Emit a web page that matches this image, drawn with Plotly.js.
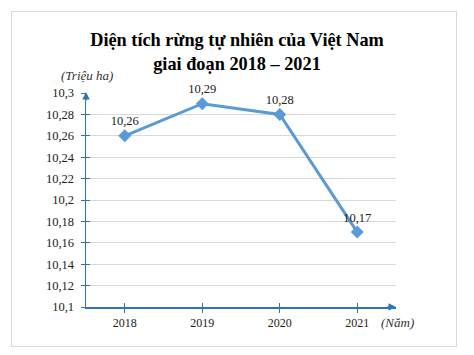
<!DOCTYPE html>
<html>
<head>
<meta charset="utf-8">
<script src="https://cdn.plot.ly/plotly-3.0.1.min.js"></script>
<style>
  html, body { margin: 0; padding: 0; background: #ffffff; }
  #wrap { position: relative; width: 474px; height: 355px; }
  #chart { width: 474px; height: 355px; }
  #frame { position: absolute; left: 11px; top: 11px; width: 444px; height: 334px; border: 1px solid #d9d9d9; pointer-events: none; }
</style>
</head>
<body>
<div id="wrap">
  <div id="chart"></div>
  <div id="frame"></div>
</div>
<script>
const years = ['2018', '2019', '2020', '2021'];
const forestArea = [10.26, 10.29, 10.28, 10.17];
const yTickValues = [10.1, 10.12, 10.14, 10.16, 10.18, 10.2, 10.22, 10.24, 10.26, 10.28, 10.3];
const yTickLabels = ['10,1', '10,12', '10,14', '10,16', '10,18', '10,2', '10,22', '10,24', '10,26', '10,28', '10,3'];
const titleText = '<b>Diện tích rừng tự nhiên của Việt Nam<br>giai đoạn 2018 – 2021</b>';
const yUnit = '(Triệu ha)';
const xUnit = '(Năm)';

const serif = '"Liberation Serif", serif';
const axisBlue = '#2e75b6';
const lineBlue = '#5b9bd5';

const trace = {
  type: 'scatter',
  mode: 'lines+markers+text',
  x: years,
  y: forestArea,
  line: { color: lineBlue, width: 3 },
  marker: { symbol: 'diamond', size: 10, color: lineBlue },
  texttemplate: '%{y:.2f}',
  textposition: 'top center',
  textfont: { family: serif, size: 12.5, color: '#222222' },
  cliponaxis: false,
  hoverinfo: 'skip'
};

// overlay trace to draw inward ticks (cross ticks) on the axes
const ghost = {
  type: 'scatter', mode: 'none', x: years, y: forestArea,
  xaxis: 'x2', yaxis: 'y2', hoverinfo: 'skip', showlegend: false
};

const layout = {
  width: 474,
  height: 355,
  margin: { l: 86, r: 78, t: 93, b: 48 },
  paper_bgcolor: '#ffffff',
  plot_bgcolor: '#ffffff',
  separators: ',.',
  showlegend: false,
  font: { family: serif },
  title: {
    text: titleText,
    font: { family: serif, size: 18.3, color: '#000000' },
    x: 0.5, xref: 'container', xanchor: 'center',
    y: 1 - 46 / 355, yref: 'container', yanchor: 'top'
  },
  xaxis: {
    type: 'category',
    range: [-0.5, 3.5],
    showgrid: false,
    showline: true, linecolor: axisBlue, linewidth: 1.5,
    ticks: 'outside', ticklen: 4, tickcolor: axisBlue, tickwidth: 1,
    ticklabelstandoff: 0,
    tickfont: { family: serif, size: 12, color: '#222222' },
    zeroline: false, fixedrange: true
  },
  yaxis: {
    range: [10.1, 10.3],
    tickvals: yTickValues,
    ticktext: yTickLabels,
    showgrid: true, gridcolor: '#d9d9d9', gridwidth: 1,
    showline: true, linecolor: axisBlue, linewidth: 1.5,
    ticks: 'outside', ticklen: 4, tickcolor: axisBlue, tickwidth: 1,
    ticklabelstandoff: 4,
    tickfont: { family: serif, size: 12.5, color: '#222222' },
    zeroline: false, fixedrange: true
  },
  xaxis2: {
    type: 'category', range: [-0.5, 3.5], overlaying: 'x',
    showgrid: false, showline: false, showticklabels: false,
    ticks: 'inside', ticklen: 4, tickcolor: axisBlue, tickwidth: 1,
    zeroline: false, fixedrange: true
  },
  yaxis2: {
    range: [10.1, 10.3], overlaying: 'y', side: 'left',
    tickvals: yTickValues,
    showgrid: false, showline: false, showticklabels: false,
    ticks: 'inside', ticklen: 4, tickcolor: axisBlue, tickwidth: 1,
    zeroline: false, fixedrange: true
  },
  annotations: [
    {
      text: yUnit, xref: 'paper', yref: 'paper', x: 0.003, y: 1 + 18 / 214,
      xanchor: 'center', yanchor: 'middle', showarrow: false,
      font: { family: serif, size: 13, color: '#333333', style: 'italic' }
    },
    {
      text: xUnit, xref: 'paper', yref: 'paper', x: 0.945, y: -0.03,
      xanchor: 'left', yanchor: 'top', showarrow: false,
      font: { family: serif, size: 13, color: '#333333', style: 'italic' }
    },
    {
      text: '', xref: 'paper', yref: 'paper', x: 0, y: 1.005, ax: 0, ay: 10,
      showarrow: true, arrowhead: 2, arrowsize: 1, arrowwidth: 1.5, arrowcolor: axisBlue
    },
    {
      text: '', xref: 'paper', yref: 'paper', x: 1.0, y: 0, ax: -10, ay: 0,
      showarrow: true, arrowhead: 2, arrowsize: 1, arrowwidth: 1.5, arrowcolor: axisBlue
    }
  ]
};

Plotly.newPlot('chart', [trace, ghost], layout, { displayModeBar: false, staticPlot: true });
</script>
</body>
</html>
